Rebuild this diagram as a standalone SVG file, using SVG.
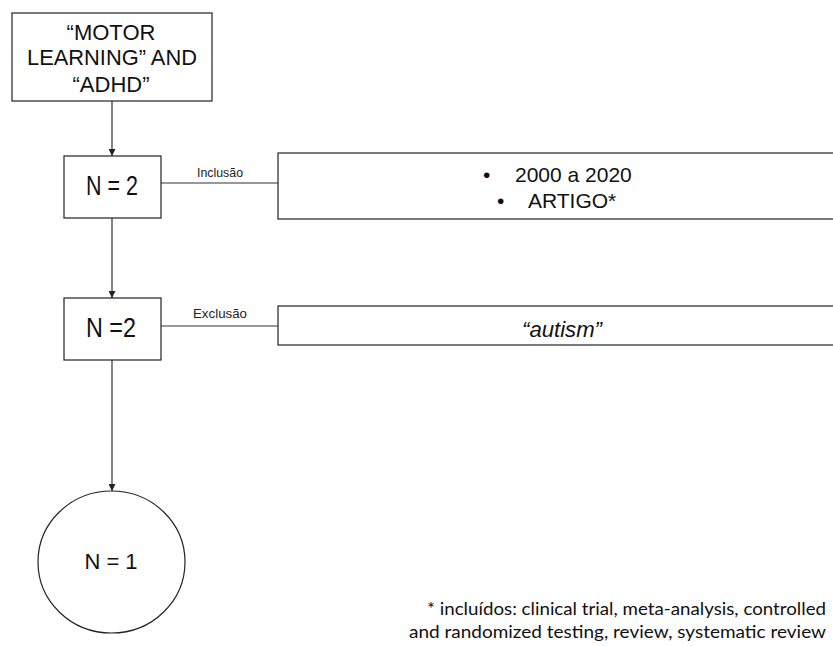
<svg xmlns="http://www.w3.org/2000/svg" width="833" height="646" viewBox="0 0 833 646">
  <style>
    .box { fill: #ffffff; stroke: #222222; stroke-width: 1.2; }
    .edge { fill: none; stroke: #333333; stroke-width: 1.2; }
    .t { font-family: "Liberation Sans", Arial, sans-serif; fill: #111111; text-anchor: middle; }
    .s { font-family: "Liberation Sans", Arial, sans-serif; fill: #111111; }
    .lbl { font-family: "Liberation Sans", Arial, sans-serif; font-size: 12.5px; fill: #222222; }
    .note { font-family: Lato, "Open Sans", sans-serif; font-size: 16.5px; fill: #111111; text-anchor: end; }
  </style>
  <defs>
    <marker id="arrow" viewBox="0 0 10 10" refX="10" refY="5" markerWidth="7" markerHeight="7" markerUnits="userSpaceOnUse" orient="auto">
      <path d="M0,0 L10,5 L0,10 z" fill="#222222"/>
    </marker>
  </defs>
  <rect width="833" height="646" fill="#ffffff"/>

  <!-- connectors -->
  <g id="connectors">
    <line class="edge" x1="112" y1="101" x2="112" y2="156" marker-end="url(#arrow)"/>
    <line class="edge" x1="112" y1="218" x2="112" y2="298" marker-end="url(#arrow)"/>
    <line class="edge" x1="112" y1="360" x2="112" y2="491" marker-end="url(#arrow)"/>
    <line class="edge" x1="161" y1="183" x2="278" y2="183"/>
    <line class="edge" x1="161" y1="326" x2="278" y2="326"/>
    <text class="lbl" x="197" y="177" textLength="46" lengthAdjust="spacingAndGlyphs">Inclusão</text>
    <text class="lbl" x="193" y="318" textLength="54" lengthAdjust="spacingAndGlyphs">Exclusão</text>
  </g>

  <g id="query">
    <rect class="box" x="12" y="13" width="200" height="88"/>
    <text class="t" font-size="22" x="111" y="40">“MOTOR</text>
    <text class="t" font-size="22" x="112" y="65" textLength="170" lengthAdjust="spacingAndGlyphs">LEARNING” AND</text>
    <text class="t" font-size="22" x="111" y="92">“ADHD”</text>
  </g>

  <g id="n2-first">
    <rect class="box" x="64" y="156" width="97" height="62"/>
    <text class="s" font-size="27" x="86" y="195" textLength="52" lengthAdjust="spacingAndGlyphs">N = 2</text>
  </g>

  <g id="inclusion">
    <rect class="box" x="278" y="153" width="570" height="66"/>
    <text class="s" font-size="21" x="483" y="182">•</text>
    <text class="s" font-size="21" x="515" y="182">2000 a 2020</text>
    <text class="s" font-size="21" x="497" y="208">•</text>
    <text class="s" font-size="21" x="528" y="208">ARTIGO*</text>
  </g>

  <g id="n2-second">
    <rect class="box" x="64" y="298" width="97" height="62"/>
    <text class="s" font-size="27" x="86" y="337" textLength="50" lengthAdjust="spacingAndGlyphs">N =2</text>
  </g>

  <g id="exclusion">
    <rect class="box" x="278" y="306" width="570" height="39"/>
    <text class="s" font-size="22" font-style="italic" x="522" y="337" textLength="80" lengthAdjust="spacingAndGlyphs">“autism”</text>
  </g>

  <g id="result">
    <ellipse class="box" cx="111.5" cy="562" rx="73.5" ry="71"/>
    <text class="t" font-size="22" x="111" y="569">N = 1</text>
  </g>

  <g id="footnote">
    <text class="note" x="826" y="615" textLength="399" lengthAdjust="spacingAndGlyphs">* incluídos: clinical trial, meta-analysis, controlled</text>
    <text class="note" x="826" y="638" textLength="417" lengthAdjust="spacingAndGlyphs">and randomized testing, review, systematic review</text>
  </g>
</svg>
